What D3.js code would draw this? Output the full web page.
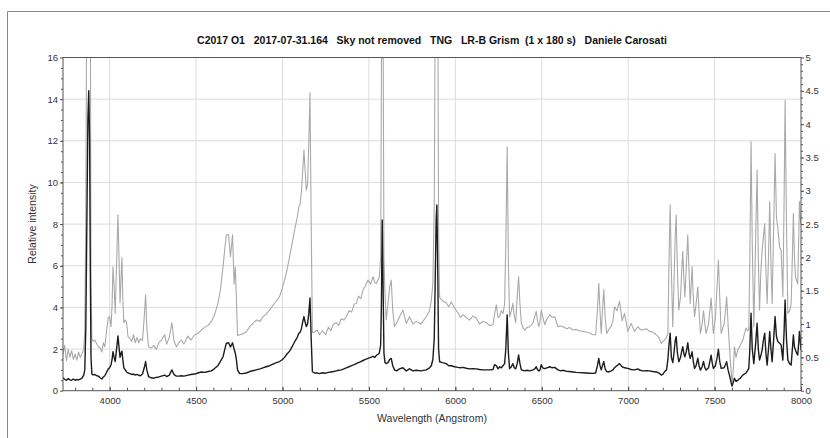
<!DOCTYPE html>
<html>
<head>
<meta charset="utf-8">
<script src="https://cdn.jsdelivr.net/npm/d3@7"></script>
<style>
  body { margin: 0; background: #fff; }
  text { font-family: "Liberation Sans Narrow", "Arial Narrow", "Liberation Sans", sans-serif; }
</style>
</head>
<body>
<svg id="chart" width="830" height="438"></svg>
<script>
// Wavelength samples (Angstrom), shared by both traces
const wavelength = [
  3730,3740,3750,3760,3770,3780,3790,3800,3810,3820,3830,3840,3850,
  3856,3862,3868,3874,3879,3884,3888,3892,3897,
  3905,3915,3925,3935,3945,3955,3963,3972,3982,3992,4000,
  4008,4014,4019,4026,4032,4040,4048,4054,4060,4066,4071,4076,4082,4090,4098,4106,
  4118,4128,4138,4148,4158,4168,4178,4190,
  4200,4208,4215,4225,
  4240,4255,4270,4285,4300,4318,4330,4345,4360,4372,4386,4400,4415,4430,4453,4470,4492,
  4510,4530,4550,4570,4588,4605,4626,4640,4656,4665,4675,4688,4699,4711,4720,4727,4733,4740,4752,4770,4790,4810,
  4848,4870,4887,4905,4925,4945,4965,4983,5000,5012,5025,5041,5055,5070,5085,5095,5102,5110,5117,5124,5131,5138,5145,5152,5159,5166,5173,
  5185,5200,5215,5230,5250,5265,5280,5295,5311,5325,5340,5355,5369,5385,5400,5415,5427,5440,5453,5466,5480,5495,5510,5524,5535,5543,5552,5560,
  5568,5572,5577,5582,5587,5593,5600,5610,5620,5629,5638,5648,5660,5677,5697,5716,5735,5755,5774,5800,5832,5851,5861,5870,
  5878,5884,5889,5893,5898,5903,5909,
  5925,5947,5962,5976,5996,6015,6030,6044,6063,6082,
  6101,6121,6140,6160,6180,6198,6218,6227,6237,6247,
  6256,6266,6276,6285,6292,6300,6307,6314,6324,6333,
  6341,6349,6358,6366,6374,6382,6391,6401,6415,6430,
  6450,6460,6468,6476,6484,6490,6497,6505,6517,6530,
  6546,6560,6575,6594,6610,6623,6645,6660,6680,6700,
  6718,6738,6757,6775,6796,6812,6822,6830,6837,6844,
  6851,6859,6867,6876,6888,6901,6912,6921,6935,6950,
  6965,6979,6998,7017,7037,7056,7070,7085,7105,7123,
  7142,7162,7178,7191,7202,7210,7222,7230,7236,7243,
  7250,7258,7265,7272,7278,7285,7293,7303,7310,7316,
  7322,7328,7337,7345,7352,7359,7365,7370,7377,7384,
  7393,7403,7410,7418,7428,7436,7444,7451,7465,7480,
  7487,7493,7505,7515,7522,7530,7538,7555,7563,7570,
  7578,7586,7594,7601,7608,7615,7624,7634,7648,7663,
  7672,7682,7690,7698,7704,7711,7718,7727,7737,7746,
  7753,7760,7768,7775,7782,7790,7797,7804,7812,7819,
  7826,7833,7842,7850,7858,7866,7876,7885,7895,7902,
  7908,7916,7924,7934,7943,7950,7956,7962,7968,7975,
  7981,7987,7991,7996,8000
];

// Relative intensity, left axis (0-16), black trace
const intensity = [
  0.62,0.55,0.50,0.58,0.52,0.50,0.56,0.50,0.54,0.52,0.56,0.60,0.75,
  1.0,3.0,8.0,13.0,14.4,12.0,6.0,1.6,0.8,
  0.76,0.78,0.72,0.70,0.62,0.56,0.66,0.72,0.88,1.05,1.10,
  1.25,1.5,1.87,1.6,1.4,2.0,2.63,2.1,1.6,1.8,1.9,1.5,1.1,1.0,0.9,0.85,
  0.82,0.78,0.8,0.75,0.78,0.74,0.72,0.8,
  1.1,1.4,1.0,0.68,
  0.62,0.6,0.64,0.66,0.7,0.75,0.68,0.75,1.0,0.78,0.7,0.7,0.72,0.7,0.75,0.78,0.8,
  0.85,0.9,0.88,0.92,0.95,1.05,1.2,1.4,1.63,1.95,2.28,2.3,2.1,2.3,2.0,1.8,1.5,1.0,0.82,0.82,0.85,0.92,
  1.0,1.05,1.1,1.15,1.2,1.28,1.35,1.4,1.5,1.6,1.75,1.9,2.1,2.35,2.55,2.77,2.8,3.0,3.3,3.56,3.3,3.08,3.2,3.7,4.45,2.5,0.91,
  0.85,0.85,0.82,0.86,0.84,0.88,0.9,0.92,0.95,0.98,1.0,1.05,1.1,1.15,1.2,1.25,1.3,1.35,1.4,1.45,1.5,1.55,1.6,1.65,1.6,1.7,1.75,1.8,
  2.2,4.0,8.2,5.0,1.8,1.35,1.3,1.35,1.5,1.55,1.2,1.0,0.95,1.05,1.1,0.95,1.05,0.95,0.98,0.95,1.0,1.1,1.2,1.5,
  2.5,5.5,8.2,8.92,6.0,2.0,1.39,
  1.35,1.3,1.2,1.2,1.15,1.12,1.1,1.12,1.08,1.05,
  1.06,1.05,1.02,1.0,1.0,1.0,1.02,1.25,1.2,1.05,
  1.15,1.1,1.2,1.3,2.0,3.64,1.8,1.06,1.15,1.3,
  1.1,1.05,1.3,1.72,1.3,1.0,0.98,0.95,0.98,0.95,
  1.0,1.05,1.15,1.0,0.95,1.0,1.25,1.1,1.06,1.1,
  1.15,1.1,1.12,1.0,0.95,0.98,0.93,0.92,0.9,0.88,
  0.87,0.86,0.85,0.84,0.83,0.85,1.2,1.55,1.2,1.0,
  1.2,1.4,1.05,0.92,0.9,0.95,1.0,1.1,1.2,1.3,
  1.15,1.1,1.07,1.02,1.0,1.05,0.98,0.95,0.96,0.95,
  0.92,0.9,0.85,0.75,0.8,0.91,1.0,1.5,2.2,2.76,
  1.6,1.35,1.8,2.4,2.6,1.8,1.39,1.6,1.9,2.11,
  1.8,1.63,1.9,2.3,1.8,1.56,1.7,1.87,1.4,1.07,
  1.2,1.56,1.2,0.99,1.15,1.4,1.1,0.99,1.1,1.71,
  1.3,1.07,1.2,1.6,1.99,1.4,1.07,1.1,1.25,1.39,
  1.0,0.75,0.45,0.22,0.4,0.6,0.45,0.5,0.6,0.75,
  0.8,0.85,0.95,1.07,2.0,3.72,2.0,1.3,2.2,3.24,
  2.0,1.47,1.7,1.95,2.4,2.76,1.8,1.23,2.0,2.84,
  2.0,1.39,2.5,3.56,2.6,2.36,2.28,2.2,1.47,2.8,
  4.36,2.5,1.47,1.3,1.23,2.0,2.68,2.1,1.95,1.8,
  1.71,2.3,2.84,2.4,1.95
];

// Relative intensity, right axis (0-5), grey trace
const intensityRight = [
  0.55,0.68,0.45,0.62,0.50,0.60,0.47,0.55,0.46,0.58,0.50,0.56,0.62,
  0.9,2.6,6.5,11.5,14.4,11.5,6.0,1.6,0.78,
  0.74,0.76,0.70,0.66,0.64,0.58,0.72,0.66,0.90,1.10,1.11,
  0.96,1.3,1.86,1.55,1.16,1.9,2.64,2.0,1.32,1.7,2.0,1.4,1.02,1.06,1.03,0.81,
  0.78,0.74,0.84,0.72,0.8,0.72,0.78,0.75,
  1.1,1.44,0.95,0.66,
  0.64,0.68,0.62,0.72,0.76,0.84,0.7,0.8,1.02,0.75,0.66,0.72,0.76,0.7,0.82,0.76,0.84,
  0.86,0.91,0.95,0.98,1.04,1.12,1.31,1.5,1.86,2.1,2.34,2.34,2.01,2.34,1.6,1.86,1.4,0.83,0.84,0.85,0.88,0.96,
  1.06,1.04,1.11,1.15,1.21,1.28,1.35,1.41,1.55,1.66,1.8,2.01,2.2,2.41,2.6,2.76,2.8,3.01,3.3,3.61,3.3,3.01,3.1,3.7,4.47,2.5,0.87,
  0.88,0.91,0.84,0.9,0.84,0.95,0.9,1.0,1.02,0.98,1.08,1.06,1.11,1.2,1.18,1.3,1.31,1.42,1.38,1.51,1.58,1.66,1.6,1.71,1.62,1.61,1.66,1.7,
  2.0,4.5,8.5,5.5,2.0,1.46,1.06,1.3,1.55,1.66,1.2,0.96,1.02,1.11,1.21,1.01,1.11,1.0,1.04,1.0,1.11,1.2,1.36,1.6,
  2.8,6.0,8.5,9.0,6.5,2.4,1.4,
  1.35,1.32,1.26,1.33,1.24,1.17,1.1,1.14,1.1,1.06,
  1.12,1.09,1.0,1.04,1.02,0.98,0.99,1.15,1.29,1.1,
  1.11,1.2,1.16,1.3,2.2,3.66,1.9,1.11,1.2,1.31,
  1.12,1.02,1.4,1.71,1.3,1.01,0.95,0.91,0.95,0.96,
  1.02,1.12,1.19,1.04,0.96,1.05,1.21,1.12,0.99,1.08,
  1.14,1.1,1.11,0.96,0.97,0.96,0.93,0.95,0.91,0.92,
  0.9,0.89,0.88,0.87,0.84,0.84,1.2,1.61,1.2,0.86,
  1.2,1.52,1.1,0.86,0.92,0.96,1.05,1.26,1.2,1.34,
  1.05,1.16,0.89,1.01,0.89,0.96,0.92,0.91,0.93,0.89,
  0.88,0.84,0.8,0.71,0.74,0.76,0.8,0.86,1.9,2.79,
  1.8,0.96,1.6,2.3,2.64,1.8,1.21,1.41,1.8,2.09,
  1.7,1.41,1.9,2.34,1.8,1.31,1.6,1.86,1.4,1.11,
  1.3,1.56,1.2,0.86,1.0,1.2,1.0,0.86,1.0,1.39,
  1.1,0.86,1.1,1.6,1.96,1.4,0.86,1.0,1.2,1.41,
  1.0,0.66,0.35,0.11,0.3,0.66,0.5,0.61,0.68,0.76,
  0.85,0.94,0.9,0.91,2.0,3.74,2.2,0.96,2.2,3.31,
  2.0,1.21,1.8,2.11,2.3,2.51,1.8,1.31,2.0,2.84,
  1.9,1.31,2.5,3.56,2.6,2.44,2.16,2.1,1.41,2.8,
  4.36,2.5,1.16,1.2,1.3,2.0,2.66,2.0,1.71,1.65,
  1.6,2.3,2.84,2.6,2.5
];

const xTicks = [4000, 4500, 5000, 5500, 6000, 6500, 7000, 7500, 8000];
const leftTicks = [0, 2, 4, 6, 8, 10, 12, 14, 16];
const rightTicks = [0, 0.5, 1, 1.5, 2, 2.5, 3, 3.5, 4, 4.5, 5];
const chartTitle = "C2017 O1   2017-07-31.164   Sky not removed   TNG   LR-B Grism  (1 x 180 s)   Daniele Carosati";
const xTitle = "Wavelength (Angstrom)";
const yTitle = "Relative intensity";

const svg = d3.select("#chart");
const plot = { left: 63, right: 801, top: 57.5, bottom: 390.7 };

const x = d3.scaleLinear().domain([3730, 8000]).range([plot.left, plot.right]);
const yL = d3.scaleLinear().domain([0, 16]).range([plot.bottom, plot.top]);
const yR = d3.scaleLinear().domain([0, 5]).range([plot.bottom, plot.top]);

// outer frame (left and top edges)
svg.append("path")
  .attr("d", "M7.5,438 V11.5 H830")
  .attr("fill", "none").attr("stroke", "#8a8a8a").attr("stroke-width", 1);

// grid
const grid = svg.append("g").attr("stroke", "#dcdcdc").attr("stroke-width", 1);
grid.selectAll("line.v").data(xTicks.filter(d => d < 8000)).join("line")
  .attr("x1", d => x(d)).attr("x2", d => x(d))
  .attr("y1", plot.top).attr("y2", plot.bottom);
grid.selectAll("line.h").data(leftTicks.filter(d => d > 0 && d < 16)).join("line")
  .attr("x1", plot.left).attr("x2", plot.right)
  .attr("y1", d => yL(d)).attr("y2", d => yL(d));

// traces
svg.append("clipPath").attr("id", "clip").append("rect")
  .attr("x", plot.left).attr("y", plot.top)
  .attr("width", plot.right - plot.left).attr("height", plot.bottom - plot.top);

const idx = d3.range(wavelength.length);
const lineRight = d3.line().x(i => x(wavelength[i])).y(i => yR(intensityRight[i]));
const lineLeft = d3.line().x(i => x(wavelength[i])).y(i => yL(intensity[i]));

const traces = svg.append("g").attr("clip-path", "url(#clip)");
traces.append("path").datum(idx).attr("d", lineRight)
  .attr("fill", "none").attr("stroke", "#a9a9a9").attr("stroke-width", 1.1)
  .attr("stroke-linejoin", "round");
traces.append("path").datum(idx).attr("d", lineLeft)
  .attr("fill", "none").attr("stroke", "#1c1c1c").attr("stroke-width", 1.4)
  .attr("stroke-linejoin", "round");

// plot frame
svg.append("rect")
  .attr("x", plot.left).attr("y", plot.top)
  .attr("width", plot.right - plot.left).attr("height", plot.bottom - plot.top)
  .attr("fill", "none").attr("stroke", "#555").attr("stroke-width", 1);

function styleAxis(g) {
  g.select(".domain").remove();
  g.selectAll("line").attr("stroke", "#555");
  g.selectAll("text").attr("fill", "#333").attr("font-size", 9.5)
    .attr("font-family", "\"Liberation Sans Narrow\", \"Arial Narrow\", \"Liberation Sans\", sans-serif");
}

// bottom axis
svg.append("g").attr("transform", `translate(0,${plot.bottom})`)
  .call(d3.axisBottom(x).tickValues(d3.range(3800, 8000, 100)).tickSize(-3).tickFormat(""))
  .call(styleAxis);
svg.append("g").attr("transform", `translate(0,${plot.bottom})`)
  .call(d3.axisBottom(x).tickValues(xTicks).tickSize(-4).tickPadding(7).tickFormat(d3.format("d")))
  .call(styleAxis);

// left axis
svg.append("g").attr("transform", `translate(${plot.left},0)`)
  .call(d3.axisLeft(yL).tickValues(d3.range(0.5, 16, 0.5)).tickSize(2).tickFormat(""))
  .call(styleAxis);
svg.append("g").attr("transform", `translate(${plot.left},0)`)
  .call(d3.axisLeft(yL).tickValues(leftTicks).tickSize(3).tickPadding(2).tickFormat(d3.format("d")))
  .call(styleAxis);

// right axis
svg.append("g").attr("transform", `translate(${plot.right},0)`)
  .call(d3.axisRight(yR).tickValues(d3.range(0.1, 5, 0.1)).tickSize(2).tickFormat(""))
  .call(styleAxis);
svg.append("g").attr("transform", `translate(${plot.right},0)`)
  .call(d3.axisRight(yR).tickValues(rightTicks).tickSize(3).tickPadding(1.5).tickFormat(d3.format("~g")))
  .call(styleAxis);

// titles
svg.append("text")
  .attr("x", (plot.left + plot.right) / 2).attr("y", 44)
  .attr("text-anchor", "middle").attr("font-size", 10.5).attr("font-weight", "bold")
  .attr("fill", "#111").style("white-space", "pre")
  .text(chartTitle);

svg.append("text")
  .attr("x", (plot.left + plot.right) / 2).attr("y", 422)
  .attr("text-anchor", "middle").attr("font-size", 10.5).attr("fill", "#333")
  .text(xTitle);

svg.append("text")
  .attr("transform", "translate(36,224) rotate(-90)")
  .attr("text-anchor", "middle").attr("font-size", 10.5).attr("fill", "#333")
  .text(yTitle);
</script>
</body>
</html>
